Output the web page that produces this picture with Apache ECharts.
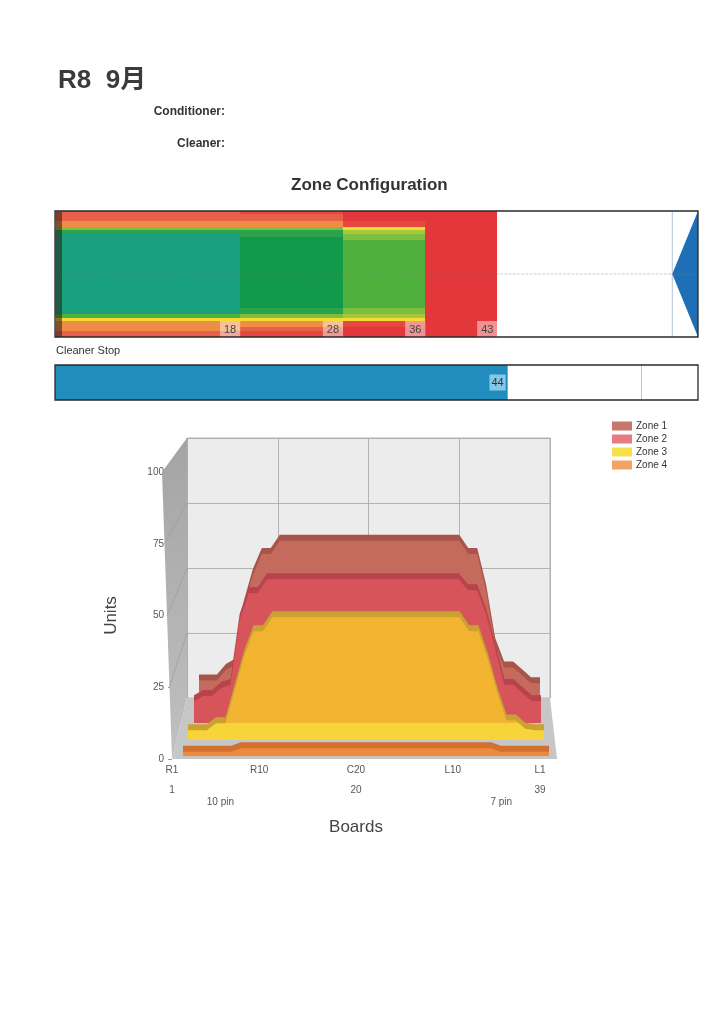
<!DOCTYPE html>
<html>
<head>
<meta charset="utf-8">
<script src="https://cdn.jsdelivr.net/npm/echarts@6/dist/echarts.min.js"></script>
<style>
  html, body { margin: 0; padding: 0; background: #fff; }
  #chart { width: 724px; height: 1024px; }
</style>
</head>
<body>
<div id="chart"></div>
<script>
// boards 1..39 (R1 .. C20 .. L1)
const boards = [1,2,3,4,5,6,7,8,9,10,11,12,13,14,15,16,17,18,19,20,21,22,23,24,25,26,27,28,29,30,31,32,33,34,35,36,37,38,39];

// oil units per board
const zone1 = [10,10,10,14,16,38,50,58,58,63,63,63,63,63,63,63,63,63,63,63,63,63,63,63,63,63,63,63,63,63,58,58,44,24,15,15,12,9,9];
const zone2 = [8,10,10,13,14,38,48,48,53,53,53,53,53,53,53,53,53,53,53,53,53,53,53,53,53,53,53,53,53,53,49,49,40,27,14,14,11,8,8];
const zone3 = [3.5,3.5,3.5,6,6,18,30,39,39,44,44,44,44,44,44,44,44,44,44,44,44,44,44,44,44,44,44,44,44,44,39,39,29,17,7,7,4,3.5,3.5];
const zone4 = [1.5,1.5,1.5,1.5,1.5,1.5,2.7,2.7,2.7,2.7,2.7,2.7,2.7,2.7,2.7,2.7,2.7,2.7,2.7,2.7,2.7,2.7,2.7,2.7,2.7,2.7,2.7,2.7,2.7,2.7,2.7,2.7,2.7,1.5,1.5,1.5,1.5,1.5,1.5];
const zoneNames = ['Zone 1', 'Zone 2', 'Zone 3', 'Zone 4'];

// zone distances down the lane (ft)
const zoneStartFt = [0, 18, 28, 36];
const zoneEndFt = [18, 28, 36, 43];
const cleanerStopFt = 44;
const pinDeckFt = [60, 62.5];
const cleanerMarkFt = 57;

// axis tick labels
const unitTicks = [0, 25, 50, 75, 100];
const boardTickValues = [1, 10, 20, 30, 39];
const boardTickNames = ['R1', 'R10', 'C20', 'L10', 'L1'];
const boardNumberTicks = [1, 20, 39];
const pinBoards = [6, 35];
const pinNames = ['10 pin', '7 pin'];

const zones = [zone1, zone2, zone3, zone4];
const FONT = '"Liberation Sans", Arial, "Noto Sans CJK JP", sans-serif';

// depth planes of the fake 3D chart (px)
const planes = [
  { left: 199, width: 341, base: 707, h: 264 },
  { left: 194, width: 347, base: 723, h: 271 },
  { left: 188, width: 356, base: 740, h: 279 },
  { left: 183, width: 366, base: 756, h: 285 }
];
const TOP_DY = 6;
// zone 3 is see-through in the original: orange where zone 2 is behind it, plain yellow below
const zone3Face = new echarts.graphic.LinearGradient(0, planes[1].base - 200, 0, planes[1].base + 20, [
  { offset: 0, color: '#F2B230' }, { offset: 200 / 220, color: '#F2B531' },
  { offset: 200 / 220, color: '#F7D53A' }, { offset: 1, color: '#F7D53A' }
], true);
const faceColors = ['#C46B5E', '#D8545B', zone3Face, '#EE8A3B'];
const topColors = ['#A9544A', '#B8434C', '#C9A232', '#D2702F'];
const legendColors = ['#C9776C', '#E47C82', '#F6E04A', '#F4A261'];

const chart = echarts.init(document.getElementById('chart'), null, { renderer: 'canvas' });

const grids = [
  { left: 55, top: 211, width: 643, height: 126 },
  { left: 55, top: 365, width: 643, height: 35 },
  { left: 187, top: 438, width: 363, height: 260, show: true, backgroundColor: '#ECECEC', borderColor: '#A8A8A8', borderWidth: 0.8 }
];
const xAxes = [
  { gridIndex: 0, type: 'value', min: 0, max: pinDeckFt[1], show: false },
  { gridIndex: 1, type: 'value', min: 0, max: pinDeckFt[1], show: false },
  { gridIndex: 2, type: 'value', min: 0, max: 40, interval: 10, axisLine: { show: false }, axisTick: { show: false }, axisLabel: { show: false },
    splitLine: { show: true, lineStyle: { color: '#A4A4A4', width: 0.8 } } }
];
const yAxes = [
  { gridIndex: 0, type: 'value', min: 0.5, max: 39.5, inverse: true, show: false },
  { gridIndex: 1, type: 'category', data: ['Cleaner'], show: false },
  { gridIndex: 2, type: 'value', min: 0, max: 100, interval: 25, axisLine: { show: false }, axisTick: { show: false }, axisLabel: { show: false },
    splitLine: { show: true, lineStyle: { color: '#A4A4A4', width: 0.8 } } }
];

const series = [];

// zone configuration strip
const heatData = [];
zones.forEach((z, zi) => {
  z.forEach((v, k) => heatData.push([zoneStartFt[zi], zoneEndFt[zi], boards[k], v]));
});
series.push({
  type: 'custom', name: 'config', xAxisIndex: 0, yAxisIndex: 0, silent: true, z: 2,
  data: heatData,
  renderItem: (params, api) => {
    const p0 = api.coord([api.value(0), api.value(2) - 0.5]);
    const p1 = api.coord([api.value(1), api.value(2) + 0.5]);
    const x0 = Math.round(p0[0]), x1 = Math.round(p1[0]);
    const y0 = Math.round(p0[1]), y1 = Math.round(p1[1]);
    return { type: 'rect', shape: { x: x0, y: y0, width: x1 - x0, height: y1 - y0 },
      style: { fill: api.visual('color') } };
  }
});
series.push({
  type: 'custom', name: 'pinDeck', xAxisIndex: 0, yAxisIndex: 0, silent: true, z: 3,
  data: [pinDeckFt],
  renderItem: (params, api) => {
    const a = api.coord([api.value(0), 20]);
    const t = api.coord([api.value(1), 0.5]);
    const b = api.coord([api.value(1), 39.5]);
    const l0 = api.coord([api.value(0), 0.5]);
    const l1 = api.coord([api.value(0), 39.5]);
    return { type: 'group', children: [
      { type: 'line', shape: { x1: l0[0], y1: l0[1], x2: l1[0], y2: l1[1] }, style: { stroke: '#AFC3DA', lineWidth: 1 } },
      { type: 'polygon', shape: { points: [t, a, b] }, style: { fill: '#1F6FB7' } }
    ] };
  }
});
series.push({
  type: 'line', name: 'center', xAxisIndex: 0, yAxisIndex: 0, silent: true, z: 4,
  data: [[0, 20], [pinDeckFt[1], 20]], symbol: 'none',
  lineStyle: { color: 'rgba(120,120,120,0.55)', width: 0.7, type: 'dashed' }
});
series.push({
  type: 'custom', name: 'zoneEnds', xAxisIndex: 0, yAxisIndex: 0, silent: true, z: 5,
  data: zoneEndFt.map(e => [e]),
  renderItem: (params, api) => {
    const p = api.coord([api.value(0), 39.5]);
    return { type: 'text', style: { text: String(api.value(0)), x: p[0], y: p[1], align: 'right', verticalAlign: 'bottom',
      fill: '#444', font: '11px ' + FONT, backgroundColor: 'rgba(255,255,255,0.45)', padding: [3, 4, 2, 4] } };
  }
});

// cleaner stop bar
series.push({
  type: 'bar', name: 'cleaner', xAxisIndex: 1, yAxisIndex: 1, silent: true, z: 2,
  data: [cleanerStopFt], barWidth: '100%',
  itemStyle: { color: '#218DBF' },
  label: { show: true, position: 'insideRight', distance: 2, color: '#333', fontSize: 11, fontFamily: FONT,
    backgroundColor: 'rgba(150,212,238,0.85)', padding: [3, 2, 2, 2] },
  markLine: { silent: true, symbol: 'none', animation: false, label: { show: false },
    lineStyle: { color: '#B5C7E3', width: 1, type: 'solid' }, data: [{ xAxis: cleanerMarkFt }] }
});

// 3D-like zone areas: darker copy pushed back (top face), then the front face
zones.forEach((z, i) => {
  const pl = planes[i];
  const gFront = grids.length;
  grids.push({ left: pl.left, top: pl.base - pl.h, width: pl.width, height: pl.h });
  const gBack = grids.length;
  grids.push({ left: pl.left, top: pl.base - pl.h - TOP_DY, width: pl.width, height: pl.h + TOP_DY });
  xAxes.push({ gridIndex: gBack, type: 'value', min: boards[0], max: boards[boards.length - 1], show: false });
  yAxes.push({ gridIndex: gBack, type: 'value', min: -TOP_DY * 100 / pl.h, max: 100, show: false });
  xAxes.push({ gridIndex: gFront, type: 'value', min: boards[0], max: boards[boards.length - 1], show: false });
  yAxes.push({ gridIndex: gFront, type: 'value', min: 0, max: 100, show: false });
  const pts = boards.map((b, k) => [b, z[k]]);
  series.push({
    type: 'line', name: zoneNames[i] + ' top', xAxisIndex: xAxes.length - 2, yAxisIndex: yAxes.length - 2,
    data: pts, symbol: 'none', silent: true, z: 10 + i * 2,
    lineStyle: { opacity: 0 }, areaStyle: { color: topColors[i], opacity: 1, origin: 'start' }
  });
  series.push({
    type: 'line', name: zoneNames[i], xAxisIndex: xAxes.length - 1, yAxisIndex: yAxes.length - 1,
    data: pts, symbol: 'none', silent: true, z: 11 + i * 2, color: legendColors[i],
    lineStyle: { opacity: 0 }, areaStyle: { color: faceColors[i], opacity: 1, origin: 'start' }
  });
});

// front axes (labels only)
const gLabel = grids.length;
grids.push({ left: 172, top: 472, width: 368, height: 287 });
const labelX = {
  gridIndex: gLabel, type: 'value', position: 'bottom', min: boards[0], max: boards[boards.length - 1],
  axisLine: { show: false }, splitLine: { show: false }, axisTick: { show: false }
};
xAxes.push(Object.assign({}, labelX, {
  name: 'Boards', nameLocation: 'middle', nameGap: 60,
  nameTextStyle: { fontSize: 17, color: '#444', fontFamily: FONT },
  axisLabel: { customValues: boardTickValues, margin: 6, fontSize: 10, color: '#555', fontFamily: FONT,
    formatter: v => boardTickNames[boardTickValues.indexOf(v)] }
}));
xAxes.push(Object.assign({}, labelX, {
  offset: 20,
  axisLabel: { customValues: boardNumberTicks, margin: 6, fontSize: 10, color: '#555', fontFamily: FONT }
}));
xAxes.push(Object.assign({}, labelX, {
  offset: 32,
  axisLabel: { customValues: pinBoards, margin: 6, fontSize: 10, color: '#555', fontFamily: FONT,
    formatter: v => pinNames[pinBoards.indexOf(v)] }
}));
yAxes.push({
  gridIndex: gLabel, type: 'value', position: 'left', min: 0, max: 100, interval: 25,
  name: 'Units', nameLocation: 'middle', nameGap: 52, nameRotate: 90,
  nameTextStyle: { fontSize: 17, color: '#444', fontFamily: FONT },
  axisLine: { show: false }, splitLine: { show: false },
  axisTick: { show: true, length: 4, lineStyle: { color: '#999' } },
  axisLabel: { customValues: unitTicks, margin: 8, fontSize: 10, color: '#555', fontFamily: FONT }
});

const wallLine = (x1, y1, x2, y2) => ({ type: 'line', z: 1, silent: true,
  shape: { x1, y1, x2, y2 }, style: { stroke: '#9C9C9C', lineWidth: 0.7 } });

chart.setOption({
  animation: false,
  backgroundColor: '#fff',
  textStyle: { fontFamily: FONT },
  title: [
    { text: 'R8  9月', left: 58, top: 68, padding: 0, textStyle: { fontSize: 26, fontWeight: 'bold', color: '#3b3b3b', fontFamily: FONT } },
    { text: 'Conditioner:', right: 499, top: 106, padding: 0, textStyle: { fontSize: 12, fontWeight: 'bold', color: '#333', fontFamily: FONT } },
    { text: 'Cleaner:', right: 499, top: 138, padding: 0, textStyle: { fontSize: 12, fontWeight: 'bold', color: '#333', fontFamily: FONT } },
    { text: 'Zone Configuration', left: 291, top: 177, padding: 0, textStyle: { fontSize: 17, fontWeight: 'bold', color: '#333', fontFamily: FONT } },
    { text: 'Cleaner Stop', left: 56, top: 345, padding: 0, textStyle: { fontSize: 11, fontWeight: 'normal', color: '#333', fontFamily: FONT } }
  ],
  legend: {
    orient: 'vertical', left: 612, top: 421, padding: 0, itemGap: 3, itemWidth: 20, itemHeight: 9, icon: 'rect',
    selectedMode: false, textStyle: { fontSize: 10, color: '#333', fontFamily: FONT, padding: [0, 0, 0, -1] },
    data: zoneNames.map((n, i) => ({ name: n, itemStyle: { color: legendColors[i] } }))
  },
  visualMap: {
    type: 'piecewise', show: false, seriesIndex: 0, dimension: 3,
    pieces: [
      { lt: 5, color: '#E3373B' },
      { gte: 5, lt: 9, color: '#E6473F' },
      { gte: 9, lt: 12, color: '#E8604A' },
      { gte: 12, lt: 17, color: '#EF8C45' },
      { gte: 17, lt: 28, color: '#F4DC35' },
      { gte: 28, lt: 36, color: '#A6C83C' },
      { gte: 36, lt: 42, color: '#7DBE3C' },
      { gte: 42, lt: 47, color: '#50B03E' },
      { gte: 47, lt: 52, color: '#2BA34C' },
      { gte: 52, lt: 57, color: '#12994A' },
      { gte: 57, color: '#18A07F' }
    ]
  },
  grid: grids,
  xAxis: xAxes,
  yAxis: yAxes,
  graphic: [
    // left wall and floor of the 3D box
    { type: 'polygon', z: 1, silent: true, shape: { points: [[162, 472], [187, 438], [187, 698], [172, 759]] },
      style: { fill: new echarts.graphic.LinearGradient(0, 0, 0, 1, [{ offset: 0, color: '#A4A4A4' }, { offset: 1, color: '#C0C0C0' }]) } },
    { type: 'polygon', z: 1, silent: true, shape: { points: [[172, 759], [557, 759], [550, 698], [187, 698]] },
      style: { fill: '#C6C6C6' } },
    wallLine(164.5, 544, 187, 503),
    wallLine(167, 615.5, 187, 568),
    wallLine(169.5, 687, 187, 633),
    // frames and foul-line shade of the lane strips
    { type: 'rect', z: 6, silent: true, shape: { x: 56, y: 212, width: 6, height: 125 }, style: { fill: 'rgba(40,30,20,0.55)' } },
    { type: 'rect', z: 20, silent: true, shape: { x: 55, y: 211, width: 643, height: 126 }, style: { fill: 'none', stroke: '#2a2a2a', lineWidth: 1.3 } },
    { type: 'rect', z: 20, silent: true, shape: { x: 55, y: 365, width: 643, height: 35 }, style: { fill: 'none', stroke: '#2a2a2a', lineWidth: 1.3 } }
  ],
  series: series
});

window.addEventListener('resize', () => chart.resize());
</script>
</body>
</html>
